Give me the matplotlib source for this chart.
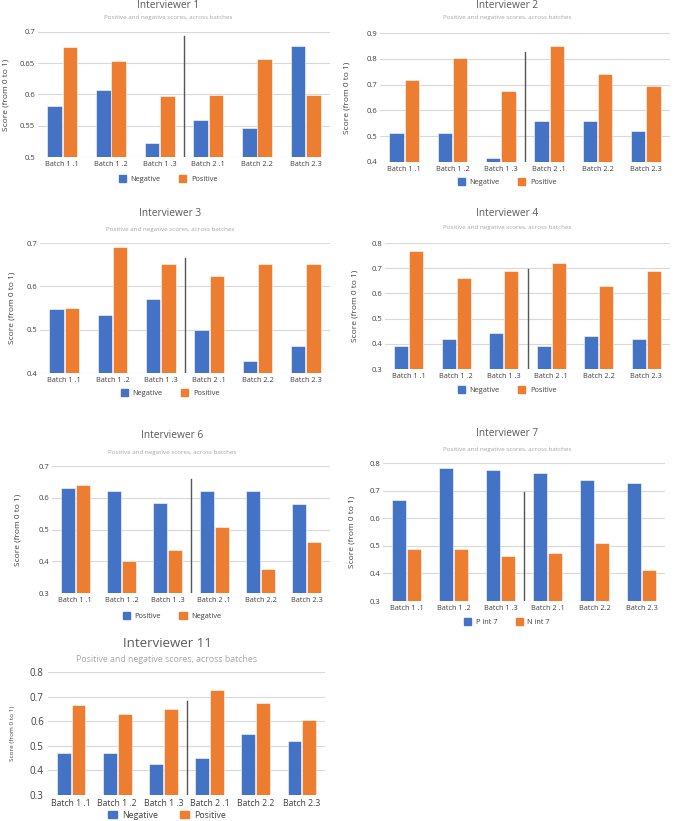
import matplotlib
matplotlib.use('Agg')
import matplotlib.pyplot as plt
from matplotlib.patches import Patch
from matplotlib.ticker import FuncFormatter

plt.rcParams['font.family'] = ['Open Sans', 'DejaVu Sans']

batches = ['Batch 1 .1', 'Batch 1 .2', 'Batch 1 .3', 'Batch 2 .1', 'Batch 2.2', 'Batch 2.3']

# interviewer 1
neg_1 = [0.582, 0.607, 0.522, 0.559, 0.546, 0.678]
pos_1 = [0.676, 0.653, 0.597, 0.599, 0.657, 0.599]
# interviewer 2
neg_2 = [0.513, 0.513, 0.415, 0.558, 0.558, 0.522]
pos_2 = [0.719, 0.803, 0.677, 0.851, 0.741, 0.694]
# interviewer 3
neg_3 = [0.548, 0.535, 0.571, 0.499, 0.428, 0.463]
pos_3 = [0.550, 0.691, 0.652, 0.623, 0.652, 0.652]
# interviewer 4
neg_4 = [0.393, 0.418, 0.442, 0.393, 0.429, 0.418]
pos_4 = [0.767, 0.661, 0.689, 0.720, 0.630, 0.689]
# interviewer 6 (blue = Positive, orange = Negative)
blue_6 = [0.632, 0.620, 0.582, 0.620, 0.622, 0.579]
orange_6 = [0.641, 0.401, 0.437, 0.509, 0.377, 0.462]
# interviewer 7
p_int7 = [0.667, 0.781, 0.774, 0.764, 0.740, 0.727]
n_int7 = [0.487, 0.487, 0.462, 0.475, 0.509, 0.414]
# interviewer 11
neg_11 = [0.472, 0.472, 0.426, 0.452, 0.547, 0.521]
pos_11 = [0.664, 0.629, 0.648, 0.728, 0.672, 0.604]

BLUE = '#4472C4'
ORANGE = '#ED7D31'
W, H = 674, 821

fig = plt.figure(figsize=(W / 100, H / 100), dpi=100)


def px(x, y):
    # pixel -> figure fraction
    return x / W, 1 - y / H


def panel(rect, blue, orange, labels, title, ylim, yticks, sep_top,
          title_y, sub_y, leg_y, ylab_x, cx, big=False):
    x0, y0, x1, y1 = rect
    ax = fig.add_axes([x0 / W, 1 - y1 / H, (x1 - x0) / W, (y1 - y0) / H])
    xs = range(len(batches))
    bw = 0.3
    ax.bar([x - bw / 2 - 0.01 for x in xs], [v - ylim[0] for v in blue], bw,
           bottom=ylim[0], color=BLUE, edgecolor='white', linewidth=0.4, zorder=3)
    ax.bar([x + bw / 2 + 0.01 for x in xs], [v - ylim[0] for v in orange], bw,
           bottom=ylim[0], color=ORANGE, edgecolor='white', linewidth=0.4, zorder=3)
    ax.plot([2.5, 2.5], [ylim[0], sep_top], color='#555555', lw=1.0, zorder=4)
    ax.set_xlim(-0.5, 5.5)
    ax.set_ylim(*ylim)
    ax.set_yticks(yticks)
    ax.yaxis.set_major_formatter(FuncFormatter(lambda v, p: '%g' % round(v, 3)))
    ax.set_xticks(list(xs))
    ax.set_xticklabels(batches, fontsize=6.2 if big else 5.3, color='#404040')
    ax.tick_params(axis='y', labelsize=7 if big else 5.5, colors='#404040',
                   length=0, pad=3 if big else 2)
    ax.tick_params(axis='x', length=0, pad=3)
    ax.grid(axis='y', color='#d9d9d9', lw=0.8, zorder=0)
    for s in ax.spines.values():
        s.set_visible(False)
    fig.text(*px(cx, title_y), title, ha='center', va='center',
             fontsize=9.5 if big else 7.3, color='#595959')
    fig.text(*px(cx, sub_y), 'Positive and negative scores, across batches',
             ha='center', va='center', fontsize=6.3 if big else 4.5, color='#a6a6a6')
    fig.text(*px(ylab_x, (y0 + y1) / 2), 'Score (from 0 to 1)', rotation=90,
             ha='center', va='center', fontsize=4.6 if big else 6, color='#404040')
    handles = [Patch(color=BLUE), Patch(color=ORANGE)]
    fig.legend(handles, labels, loc='center', bbox_to_anchor=px(cx, leg_y),
               ncol=2, frameon=False, fontsize=6.3 if big else 5.3,
               handlelength=1.0, handleheight=1.0, columnspacing=2.5,
               handletextpad=0.6, labelcolor='#404040')
    return ax


panel((38, 32, 330, 157), neg_1, pos_1, ['Negative', 'Positive'], 'Interviewer 1',
      (0.5, 0.7), [0.5, 0.55, 0.6, 0.65, 0.7], 0.694, 6, 17, 179, 6, 168)
panel((380, 33, 670, 162), neg_2, pos_2, ['Negative', 'Positive'], 'Interviewer 2',
      (0.4, 0.9), [0.4, 0.5, 0.6, 0.7, 0.8, 0.9], 0.826, 6, 18, 182, 347, 507)
panel((40, 243, 330, 373), neg_3, pos_3, ['Negative', 'Positive'], 'Interviewer 3',
      (0.4, 0.7), [0.4, 0.5, 0.6, 0.7], 0.665, 213, 229, 393, 12, 170)
panel((385, 243, 670, 369), neg_4, pos_4, ['Negative', 'Positive'], 'Interviewer 4',
      (0.3, 0.8), [0.3, 0.4, 0.5, 0.6, 0.7, 0.8], 0.697, 213, 228, 390, 355, 507)
panel((52, 466, 330, 593), blue_6, orange_6, ['Positive', 'Negative'], 'Interviewer 6',
      (0.3, 0.7), [0.3, 0.4, 0.5, 0.6, 0.7], 0.659, 435, 452, 616, 18, 172)
panel((383, 463, 665, 601), p_int7, n_int7, ['P int 7', 'N int 7'], 'Interviewer 7',
      (0.3, 0.8), [0.3, 0.4, 0.5, 0.6, 0.7, 0.8], 0.695, 433, 449, 622, 352, 507)
panel((48, 672, 325, 795), neg_11, pos_11, ['Negative', 'Positive'], 'Interviewer 11',
      (0.3, 0.8), [0.3, 0.4, 0.5, 0.6, 0.7, 0.8], 0.682, 643, 659, 815, 13, 167, big=True)

fig.savefig('out.png', dpi=100)
